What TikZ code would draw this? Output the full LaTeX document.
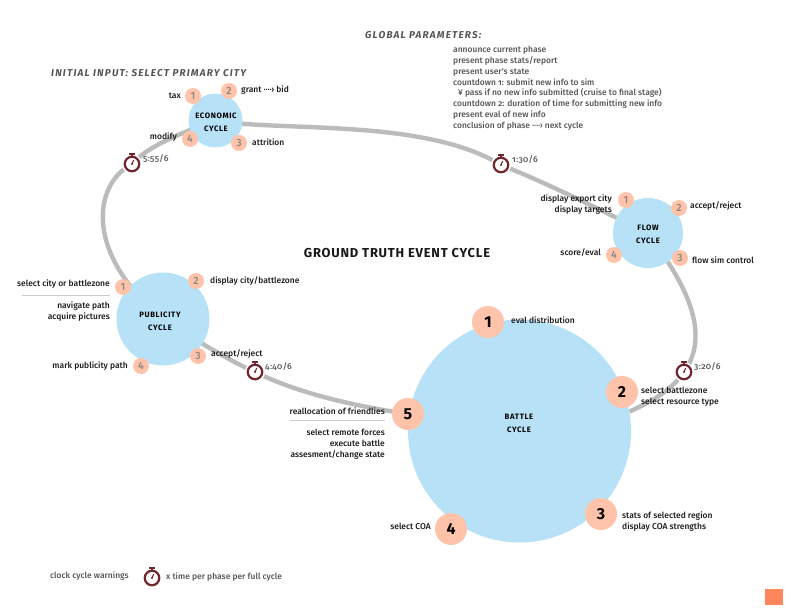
\documentclass[tikz,border=0pt]{standalone}
\usepackage{fontspec}
\usetikzlibrary{backgrounds}
\setmainfont{Fira Sans}[Numbers=OldStyle]
\newfontfamily\medlab{Fira Sans Medium}[Numbers=Lining]
\newfontfamily\medold{Fira Sans Medium}[Numbers=OldStyle,LetterSpace=4]
\newfontfamily\boldlab{Fira Sans}[LetterSpace=8,Numbers=Lining]
\definecolor{cycleblue}{HTML}{B7E1F6}
\definecolor{badgepeach}{HTML}{FFC3A9}
\definecolor{linkgrey}{HTML}{BBBBBB}
\definecolor{clockred}{HTML}{70262A}
\definecolor{squareorange}{HTML}{FF855C}
\definecolor{textgrey}{HTML}{555555}
\definecolor{numgrey}{HTML}{8A8480}
\definecolor{hair}{HTML}{CCCCCC}
\tikzset{
  cyclenode/.style={circle,fill=cycleblue,inner sep=0pt,minimum size=#1},
  badge/.style={circle,fill=badgepeach,inner sep=0pt,minimum size=16bp,text=numgrey,font=\fontsize{10.5}{10}\medlab},
  bigbadge/.style={circle,fill=badgepeach,inner sep=0pt,minimum size=32bp,text=black,font=\fontsize{16}{16}\selectfont\addfontfeature{Numbers=Lining}\bfseries},
  lab/.style={inner sep=0pt,text=black!90,font=\fontsize{8.5}{10.8}\medlab},
  labr/.style={lab,anchor=east,align=right},
  labl/.style={lab,anchor=west,align=left},
  timelab/.style={inner sep=0pt,anchor=west,text=textgrey,font=\fontsize{8.5}{10}\medold},
  greytext/.style={inner sep=0pt,anchor=west,text=textgrey,font=\fontsize{8.5}{10}\medlab},
  cycletitle/.style={inner sep=0pt,align=center,text=black,font=\fontsize{7.8}{13}\selectfont\boldlab\bfseries},
  heading/.style={inner sep=0pt,anchor=west,text=textgrey,font=\fontsize{10}{10}\selectfont\addfontfeature{LetterSpace=12}\bfseries\itshape},
  linkline/.style={draw=linkgrey,line width=4.4bp},
  hairline/.style={draw=hair,line width=.6bp},
  clockface/.style={circle,draw=clockred,line width=2.2bp,fill=white,inner sep=0pt,minimum size=14.5bp,outer sep=0pt},
  clockhalo/.style={circle,fill=white,inner sep=0pt,minimum size=20bp},
}
\newcommand{\stopwatch}[2]{%
  \node[clockhalo] at (#2) {};
  \node[clockface] (#1) at (#2) {};
  \draw[clockred,line width=1.8bp] (#1.north) -- ++(0bp,2.6bp);
  \draw[clockred,line width=1.3bp] ([xshift=-2.6bp,yshift=2.8bp]#1.north) -- ++(5.2bp,0bp);
  \draw[clockred,line width=1.1bp] (#1.center) -- ++(1.7bp,4bp);
  \fill[clockred] (#1.center) circle (1.1bp);
}
\newcommand{\dotarrow}{····›}
\begin{document}
\begin{tikzpicture}[x=1bp,y=-1bp]
\useasboundingbox (0,0) rectangle (792,612);
% cycles
\node[cyclenode=54bp] (econ) at (215.5,120.5) {};
\node[cyclenode=70bp] (flow) at (648,233) {};
\node[cyclenode=93bp] (pub) at (163,319) {};
\node[cyclenode=223bp] (battle) at (519.5,431) {};
% clocks
\stopwatch{clkE}{132,164}
\stopwatch{clkA}{501,165}
\stopwatch{clkC}{684,372}
\stopwatch{clkD}{255,372}
% badges
\node[badge] (e1) at (193,96) {1};
\node[badge] (e2) at (229,91) {2};
\node[badge] (e3) at (239,143) {3};
\node[badge] (e4) at (190,139) {4};
\node[badge] (f1) at (626,200) {1};
\node[badge] (f2) at (679,208) {2};
\node[badge] (f3) at (680,258) {3};
\node[badge] (f4) at (614,255) {4};
\node[badge] (p1) at (123,287) {1};
\node[badge] (p2) at (196,281) {2};
\node[badge] (p3) at (198,356) {3};
\node[badge] (p4) at (141,366) {4};
\node[bigbadge] (b1) at (488,322) {1};
\node[bigbadge] (b2) at (622,392) {2};
\node[bigbadge] (b3) at (601,514) {3};
\node[bigbadge] (b4) at (451,529) {4};
\node[bigbadge] (b5) at (408,414) {5};
% connectors
\begin{scope}[on background layer]
\draw[linkline] (econ.center) .. controls (280,132) and (425,118) .. (clkA.center);
\draw[linkline] (clkA.center) .. controls (545,182) and (600,210) .. (flow.center);
\draw[linkline] (flow.center) .. controls (668,262) and (718,325) .. (clkC.center);
\draw[linkline] (clkC.center) .. controls (670,392) and (650,402) .. (battle.10);
\draw[linkline] (b5.center) .. controls (355,406) and (300,394) .. (clkD.center);
\draw[linkline] (clkD.center) .. controls (232,362) and (195,340) .. (pub.center);
\draw[linkline] (pub.center) .. controls (85,255) and (92,185) .. (clkE.center);
\draw[linkline] (clkE.center) .. controls (146,148) and (175,135) .. (econ.center);
\end{scope}
% cycle titles
\node[cycletitle] (tecon) at (216,122.5) {ECONOMIC\\CYCLE};
\node[cycletitle] (tflow) at (648,234.5) {FLOW\\CYCLE};
\node[cycletitle] (tpub) at (160,321.5) {PUBLICITY\\CYCLE};
\node[cycletitle] (tbat) at (519,423.5) {BATTLE\\CYCLE};
% economic labels
\node[labr] (le1) at (181,96) {tax};
\node[labl] (le2) at (241,90) {grant \dotarrow{} bid};
\node[labl] (le3) at (252,142) {attrition};
\node[labr] (le4) at (177,137.5) {modify};
\node[timelab] (tE) at (143,159) {5:55/6};
\node[timelab] (tA) at (512,160) {1:30/6};
\node[timelab] (tC) at (694,367) {3:20/6};
\node[timelab] (tD) at (265,367) {4:40/6};
% flow labels
\node[labr] (lf1) at (612,204.5) {display export city\\display targets};
\node[labl] (lf2) at (690,206) {accept/reject};
\node[labl] (lf3) at (692,260) {flow sim control};
\node[labr] (lf4) at (601,253) {score/eval};
% publicity labels
\node[labr] (lp1) at (110,284) {select city or battlezone};
\node[labr] (lp1b) at (110,311.5) {navigate path\\acquire pictures};
\node[labl] (lp2) at (210,281) {display city/battlezone};
\node[labl] (lp3) at (211,354) {accept/reject};
\node[labr] (lp4) at (128,366) {mark publicity path};
\draw[hairline] (22,295.5) -- (110,295.5);
% battle labels
\node[labl] (lb1) at (511,320) {eval distribution};
\node[labl] (lb2) at (641,397) {select battlezone\\select resource type};
\node[labl] (lb3) at (622,521.5) {stats of selected region\\display COA strengths};
\node[labr] (lb4) at (431,526) {select COA};
\node[labr] (lb5) at (385,411) {reallocation of friendlies};
\node[labr] (lb5b) at (385,444) {select remote forces\\execute battle\\assesment/change state};
\draw[hairline] (290,420.5) -- (385,420.5);
% headings
\node[heading] (hglobal) at (365,35) {GLOBAL PARAMETERS:};
\node[heading] (hinit) at (51,73) {INITIAL INPUT: SELECT PRIMARY CITY};
\node[inner sep=0pt,text=black!90,font=\fontsize{13}{14}\selectfont\addfontfeature{LetterSpace=6,Numbers=Lining}\bfseries] (htitle) at (397,253) {GROUND TRUTH EVENT CYCLE};
% global parameter list
\node[greytext] (g1) at (453,50) {announce current phase};
\node[greytext] (g2) at (453,61) {present phase stats/report};
\node[greytext] (g3) at (453,72) {present user's state};
\node[greytext] (g4) at (453,82.5) {countdown {\medold 1}: submit new info to sim};
\node[greytext] (g5) at (458,93) {¥ pass if no new info submitted (cruise to final stage)};
\node[greytext] (g6) at (453,104) {countdown {\medold 2}: duration of time for submitting new info};
\node[greytext] (g7) at (453,115) {present eval of new info};
\node[greytext] (g8) at (453,126) {conclusion of phase \dotarrow{} next cycle};
% legend
\node[greytext] (leg1) at (50,576) {clock cycle warnings};
\stopwatch{clkL}{152,578}
\node[greytext] (leg2) at (166,577) {x time per phase per full cycle};
% corner square
\fill[squareorange] (765,589) rectangle (783,605);
\end{tikzpicture}
\end{document}
